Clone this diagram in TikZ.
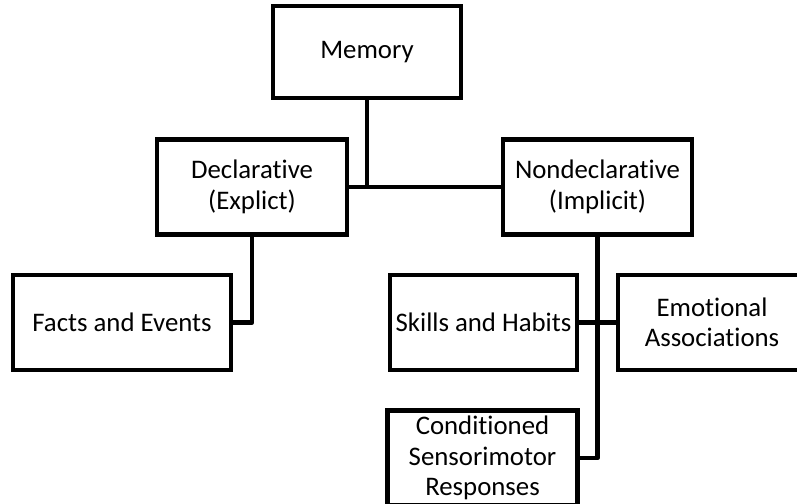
\documentclass[tikz,border=0pt]{standalone}
\usepackage{fontspec}
\setmainfont{Carlito}[Ligatures=NoCommon]

\begin{document}
\begin{tikzpicture}
        [x=1pt, y=-1pt,
        every node/.style={font=\fontsize{26.8}{30.5}\selectfont, align=center},
        box/.style={draw, line width=4.5pt, minimum width=189pt,
          minimum height=95pt, inner sep=0pt},
        link/.style={line width=4.5pt, line join=round}]

    \useasboundingbox (0,0) rectangle (797,503);

    % top level
    \node[box, minimum width=188pt, minimum height=92pt] (memory) at (367,52) {Memory};

    % second level
    \node[box, minimum width=190pt] (decl) at (252,187) {Declarative\\(Explict)};
    \node[box] (nondecl) at (597.5,187) {Nondeclarative\\(Implicit)};

    % third level
    \node[box, minimum width=218pt] (facts) at (122,322.5) {Facts and Events};
    \node[box, minimum width=187pt] (skills) at (483.5,322.5) {Skills and Habits};
    \node[box, minimum width=188pt] (emot) at (712,322.5) {Emotional\\Associations};
    \node[box, minimum width=190pt] (cond) at (482.5,458) {Conditioned\\Sensorimotor\\Responses};

    \draw[link] (memory.south) -- (memory.south |- decl.east);
    \draw[link] (decl.east) -- (nondecl.west);
    \draw[link] (decl.south) |- (facts.east);
    \draw[link] (nondecl.south) |- (cond.east);
    \draw[link] (skills.east) -- (emot.west);
    \end{tikzpicture}
\end{document}
